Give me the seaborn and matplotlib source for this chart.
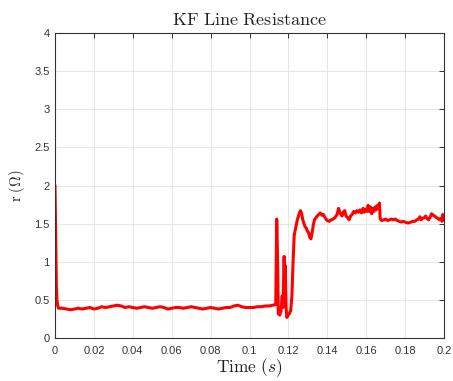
import matplotlib
matplotlib.use("Agg")
import matplotlib.pyplot as plt
import seaborn as sns
import pandas as pd

title = "KF Line Resistance"
x_ticks = [0, 0.02, 0.04, 0.06, 0.08, 0.1, 0.12, 0.14, 0.16, 0.18, 0.2]
x_tick_labels = ["0", "0.02", "0.04", "0.06", "0.08", "0.1", "0.12", "0.14", "0.16", "0.18", "0.2"]
y_ticks = [0, 0.5, 1, 1.5, 2, 2.5, 3, 3.5, 4]
y_tick_labels = ["0", "0.5", "1", "1.5", "2", "2.5", "3", "3.5", "4"]

time_s = [
    0.0, 0.0004, 0.0007, 0.0010, 0.0014, 0.0018,
    0.002, 0.004, 0.006, 0.008, 0.010, 0.012, 0.014, 0.016, 0.018, 0.020,
    0.022, 0.024, 0.026, 0.028, 0.030, 0.032, 0.034, 0.036, 0.038, 0.040,
    0.042, 0.044, 0.046, 0.048, 0.050, 0.052, 0.054, 0.056, 0.058, 0.060,
    0.062, 0.064, 0.066, 0.068, 0.070, 0.072, 0.074, 0.076, 0.078, 0.080,
    0.082, 0.084, 0.086, 0.088, 0.090, 0.092, 0.094, 0.096, 0.098, 0.100,
    0.102, 0.104, 0.106, 0.108, 0.110, 0.112, 0.1135,
    0.1140, 0.1145, 0.1148, 0.1155, 0.1162, 0.1168, 0.1172, 0.1178, 0.1182,
    0.1184, 0.1188, 0.1192, 0.1198, 0.1205, 0.1212, 0.1218, 0.1224, 0.1230,
    0.1238, 0.1246, 0.1255, 0.1262, 0.1268, 0.1274, 0.1280, 0.1286, 0.1292,
    0.1298, 0.1304, 0.1310, 0.1316, 0.1322, 0.1328, 0.1334, 0.1340, 0.1348,
    0.1356, 0.1364, 0.1372, 0.1380, 0.1390, 0.1400, 0.1410, 0.1420, 0.1430,
    0.1440, 0.1450, 0.1458, 0.1464, 0.1470, 0.1476, 0.1484, 0.1490, 0.1496,
    0.1504, 0.1512, 0.1520, 0.1528, 0.1536, 0.1544, 0.1552, 0.1560, 0.1568,
    0.1576, 0.1584, 0.1590, 0.1596, 0.1604, 0.1610, 0.1616, 0.1622, 0.1628,
    0.1634, 0.1640, 0.1646, 0.1652, 0.1658, 0.1664, 0.1668, 0.1672, 0.1680,
    0.1690, 0.1700, 0.1710, 0.1720, 0.1730, 0.1740, 0.1750, 0.1760, 0.1770,
    0.1780, 0.1790, 0.1800, 0.1810, 0.1820, 0.1830, 0.1840, 0.1850, 0.1860,
    0.1870, 0.1876, 0.1882, 0.1890, 0.1900, 0.1906, 0.1912, 0.1920, 0.1928,
    0.1936, 0.1944, 0.1952, 0.1960, 0.1968, 0.1976, 0.1984, 0.1990, 0.1994,
    0.1998, 0.2000,
]
resistance = [
    2.0, 1.2, 0.7, 0.5, 0.42, 0.39,
    0.39, 0.39, 0.38, 0.37, 0.38, 0.39, 0.38, 0.39, 0.40, 0.38,
    0.39, 0.41, 0.40, 0.41, 0.42, 0.43, 0.42, 0.40, 0.41, 0.40,
    0.39, 0.40, 0.41, 0.40, 0.39, 0.40, 0.41, 0.40, 0.38, 0.39,
    0.40, 0.40, 0.39, 0.40, 0.41, 0.40, 0.39, 0.38, 0.39, 0.40,
    0.39, 0.38, 0.39, 0.40, 0.40, 0.42, 0.43, 0.41, 0.40, 0.40,
    0.40, 0.41, 0.41, 0.42, 0.42, 0.43, 0.44,
    1.56, 0.95, 0.32, 0.30, 0.35, 0.55, 0.40, 1.07, 0.65,
    0.95, 0.40, 0.27, 0.30, 0.32, 0.36, 0.55, 1.00, 1.35,
    1.45, 1.55, 1.63, 1.67, 1.63, 1.55, 1.50, 1.46, 1.44,
    1.40, 1.38, 1.32, 1.30, 1.38, 1.48, 1.55, 1.57, 1.60,
    1.62, 1.64, 1.61, 1.62, 1.57, 1.54, 1.53, 1.55, 1.56,
    1.58, 1.62, 1.70, 1.65, 1.62, 1.60, 1.66, 1.67, 1.60,
    1.58, 1.55, 1.60, 1.62, 1.66, 1.64, 1.67, 1.65, 1.68,
    1.64, 1.70, 1.65, 1.69, 1.66, 1.74, 1.66, 1.72, 1.63,
    1.70, 1.66, 1.72, 1.68, 1.74, 1.70, 1.77, 1.56, 1.54,
    1.55, 1.56, 1.54, 1.55, 1.56, 1.55, 1.56, 1.54, 1.53,
    1.52, 1.53, 1.52, 1.51, 1.51, 1.52, 1.53, 1.53, 1.55,
    1.56, 1.59, 1.55, 1.57, 1.58, 1.60, 1.57, 1.55, 1.58,
    1.63, 1.61, 1.60, 1.58, 1.57, 1.55, 1.57, 1.53, 1.62,
    1.55, 1.60,
]

df = pd.DataFrame({"t": time_s, "r": resistance})

sns.set_style("white")
plt.rcParams["mathtext.fontset"] = "cm"
plt.rcParams["font.family"] = ["Liberation Sans", "DejaVu Sans"]

fig = plt.figure(figsize=(4.53, 3.81), dpi=100)
ax = fig.add_axes([55 / 453, 1 - 338 / 381, 389 / 453, 305 / 381])

sns.lineplot(data=df, x="t", y="r", ax=ax, color="#ff0000", linewidth=2.2,
             sort=False, estimator=None)

ax.set_xlim(0, 0.2)
ax.set_ylim(0, 4)
ax.set_xticks(x_ticks)
ax.set_xticklabels(x_tick_labels)
ax.set_yticks(y_ticks)
ax.set_yticklabels(y_tick_labels)
ax.grid(True, color="#e3e3e3", linewidth=0.6)
ax.set_axisbelow(True)
for s in ax.spines.values():
    s.set_color("#333333")
    s.set_linewidth(0.8)
ax.tick_params(direction="in", length=3.5, width=0.7, color="#333333",
               top=True, right=True, labelsize=8, labelcolor="#333333")
ax.tick_params(axis="x", pad=6)
ax.tick_params(axis="y", pad=4)

ax.set_title(r"$\mathrm{KF\ Line\ Resistance}$", fontsize=13, pad=6, color="#222222")
ax.set_xlabel(r"$\mathrm{Time}\ (s)$", fontsize=12.5, labelpad=0, color="#222222")
ax.set_ylabel(r"$\mathrm{r}\ (\Omega)$", fontsize=10.5, labelpad=5, color="#222222")

fig.savefig("out.png", dpi=100)
